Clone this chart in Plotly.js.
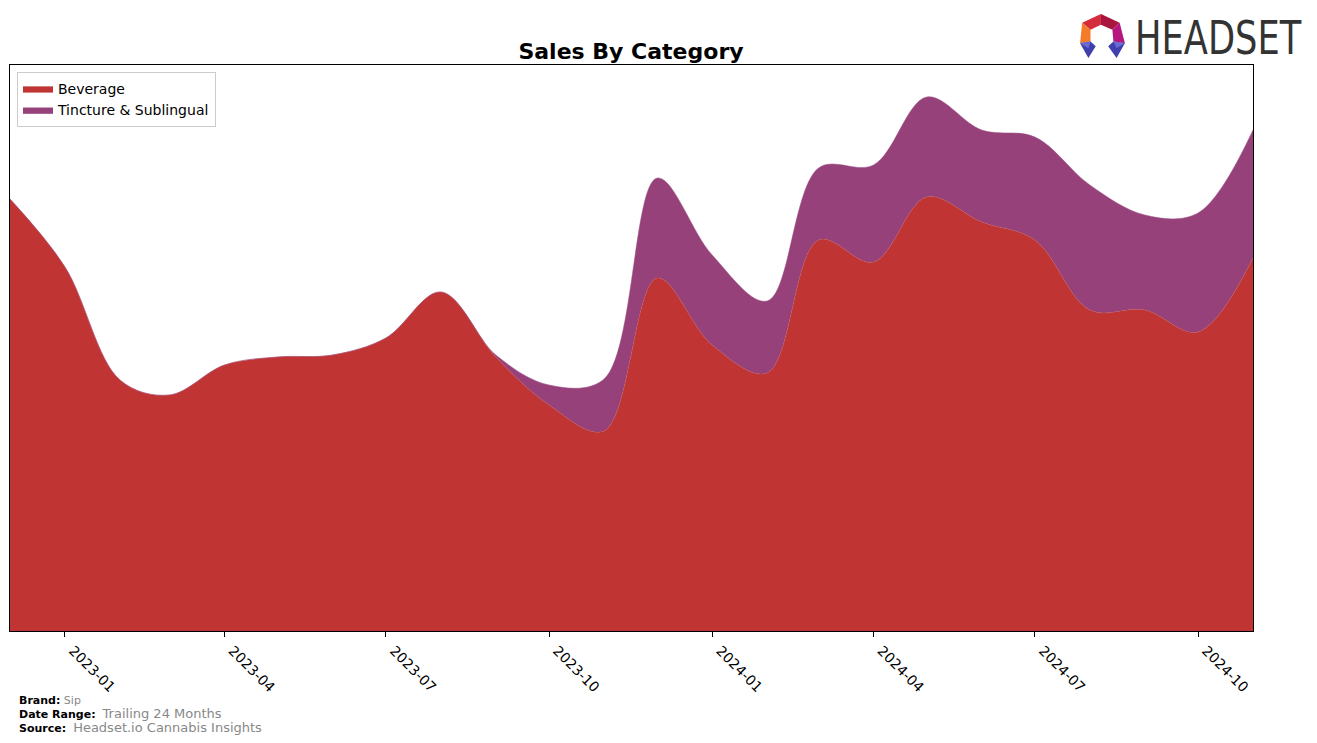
<!DOCTYPE html>
<html>
<head>
<meta charset="utf-8">
<script src="https://cdn.plot.ly/plotly-3.0.1.min.js"></script>
<style>html,body{margin:0;padding:0;background:#fff;}#chart{width:1317px;height:743px;}</style>
</head>
<body>
<div id="chart"></div>
<script>
// ---- data ----
const months = ["2022-12-01","2023-01-01","2023-02-01","2023-03-01","2023-04-01","2023-05-01","2023-06-01","2023-07-01","2023-08-01","2023-09-01","2023-10-01","2023-11-01","2023-12-01","2024-01-01","2024-02-01","2024-03-01","2024-04-01","2024-05-01","2024-06-01","2024-07-01","2024-08-01","2024-09-01","2024-10-01","2024-11-01"];
const beverage = [432,364,251,236,266,274,276,293,339,274,226,200,353,286,258,391,369,434,409,391,321,321,299,373];
const tincture = [0,0,0,0,0,0,0,0,0,2,20,52,100,90,72,72,97,100,92,103,125,95,119,128];
const tickVals = ["2023-01-01","2023-04-01","2023-07-01","2023-10-01","2024-01-01","2024-04-01","2024-07-01","2024-10-01"];
const tickText = ["2023-01","2023-04","2023-07","2023-10","2024-01","2024-04","2024-07","2024-10"];

// ---- layout helpers (pixel -> paper) ----
const W = 1317, H = 743, L = 10, R = 1253, T = 65, B = 631;
const px = x => (x - L) / (R - L);
const py = y => (B - y) / (B - T);

const traces = [
  {x: months, y: beverage, name: "Beverage", type: "scatter", mode: "lines",
   stackgroup: "one", line: {shape: "spline", smoothing: 1.0, width: 0.5, color: "#C0504D"},
   fillcolor: "#C03434", hoverinfo: "x+y"},
  {x: months, y: tincture, name: "Tincture & Sublingual", type: "scatter", mode: "lines",
   stackgroup: "one", line: {shape: "spline", smoothing: 1.0, width: 0.5, color: "#9A4C84"},
   fillcolor: "#96417A", hoverinfo: "x+y"}
];

const logoSvg = '<svg xmlns="http://www.w3.org/2000/svg" viewBox="0 0 48 48">' +
  '<polygon points="4,10 22,1 22,12 12,17" fill="#D42C3C"/>' +
  '<polygon points="22,1 40,10 33,17 22,12" fill="#A8163E"/>' +
  '<polygon points="4,10 12,17 12,29 2,31" fill="#F37B2A"/>' +
  '<polygon points="40,10 45,31 34,29 33,17" fill="#B5177E"/>' +
  '<polygon points="2,31 12,29 17,34 10,46" fill="#3F3FAE"/>' +
  '<polygon points="45,31 34,29 29,34 37,46" fill="#3F3FAE"/>' +
  '<polygon points="2,31 12,29 10,36" fill="#6A6AD0"/>' +
  '<polygon points="45,31 34,29 37,36" fill="#6A6AD0"/>' +
  '</svg>';

const layout = {
  width: W, height: H,
  margin: {l: L, r: W - R, t: T, b: H - B, pad: 0},
  paper_bgcolor: "#fff", plot_bgcolor: "#fff",
  font: {family: "DejaVu Sans", color: "#000"},
  title: {text: "<b>Sales By Category</b>", font: {family: "DejaVu Sans", size: 22, color: "#000"},
          x: px(631), xref: "paper", xanchor: "center", y: 1 - 51 / H, yref: "container", yanchor: "middle"},
  showlegend: true,
  legend: {x: px(17), y: py(72), xanchor: "left", yanchor: "top", traceorder: "normal",
           bgcolor: "rgba(255,255,255,0.8)", bordercolor: "#CCCCCC", borderwidth: 1,
           font: {family: "DejaVu Sans", size: 14, color: "#000"}, itemwidth: 30},
  xaxis: {type: "date", range: ["2022-12-01", "2024-11-01"], tickvals: tickVals, ticktext: tickText,
          tickangle: 45, ticks: "outside", ticklen: 5, tickcolor: "#000", tickwidth: 1, ticklabelshift: 8,
          showline: true, linecolor: "#000", linewidth: 1, mirror: true, showgrid: false, zeroline: false,
          tickfont: {family: "DejaVu Sans", size: 14, color: "#000"}},
  yaxis: {range: [0, B - T], showticklabels: false, ticks: "", showgrid: false, zeroline: false,
          showline: true, linecolor: "#000", linewidth: 1, mirror: true},
  images: [{source: "data:image/svg+xml;charset=utf-8," + encodeURIComponent(logoSvg),
            xref: "paper", yref: "paper", x: px(1078), y: py(13), sizex: px(1128) - px(1078), sizey: py(13) - py(60),
            xanchor: "left", yanchor: "top", sizing: "stretch", layer: "above"}],
  annotations: [
    {text: "HEADSET", xref: "paper", yref: "paper", x: px(1133), y: py(38), xanchor: "left", yanchor: "middle",
     showarrow: false, font: {family: "DejaVu Sans", size: 46, color: "#333333"}},
    {text: "<b>Brand:</b> <span style='color:#888888'>Sip</span>", xref: "paper", yref: "paper",
     x: px(17), y: py(700), xanchor: "left", yanchor: "middle", showarrow: false,
     font: {family: "DejaVu Sans", size: 11, color: "#000"}},
    {text: "<b>Date Range:</b>&nbsp; <span style='color:#888888;font-size:13px'>Trailing 24 Months</span>", xref: "paper", yref: "paper",
     x: px(17), y: py(713), xanchor: "left", yanchor: "middle", showarrow: false,
     font: {family: "DejaVu Sans", size: 11, color: "#000"}},
    {text: "<b>Source:</b>&nbsp; <span style='color:#888888;font-size:13px'>Headset.io Cannabis Insights</span>", xref: "paper", yref: "paper",
     x: px(17), y: py(727), xanchor: "left", yanchor: "middle", showarrow: false,
     font: {family: "DejaVu Sans", size: 11, color: "#000"}}
  ]
};

Plotly.newPlot("chart", traces, layout, {displayModeBar: false, staticPlot: true}).then(function () {
  // condense the HEADSET wordmark horizontally so it fits like the original narrow typeface
  const texts = document.querySelectorAll("text.annotation-text");
  texts.forEach(function (t) {
    if (t.textContent === "HEADSET") {
      const bb = t.getBBox();
      const targetW = 167;
      const s = Math.min(1, targetW / bb.width);
      const existing = t.getAttribute("transform") || "";
      t.setAttribute("transform", existing + " translate(" + bb.x + ",0) scale(" + s + ",1) translate(" + (-bb.x) + ",0)");
    }
  });
});
</script>
</body>
</html>
